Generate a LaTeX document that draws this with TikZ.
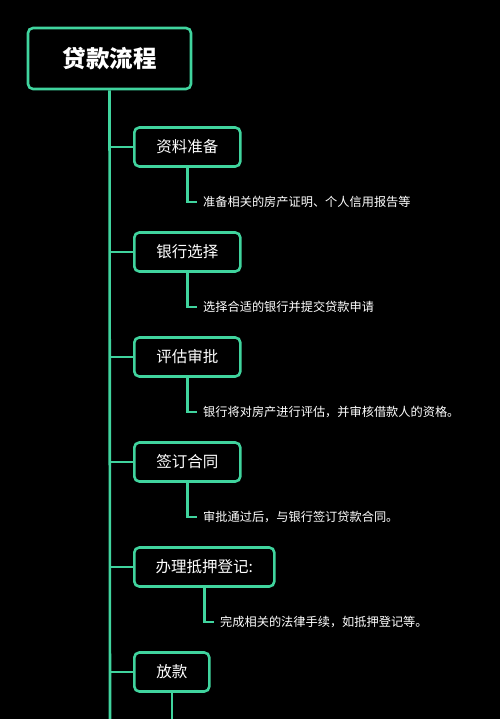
\documentclass[tikz,border=0pt]{standalone}
\usepackage{fontspec}
\setmainfont{Noto Sans CJK SC}
\definecolor{lineg}{RGB}{64,212,158}
\begin{document}
\begin{tikzpicture}[x=1pt,y=-1pt,
  box/.style={draw=lineg,line width=2.6pt,rounded corners=5pt,fill=black,text=white,inner sep=0pt,minimum height=39pt,font=\fontsize{15.5}{18}\selectfont},
  conn/.style={draw=lineg,line width=2.6pt},
  desc/.style={text=white,anchor=west,inner xsep=6pt,inner ysep=0pt,font=\fontsize{12.2}{14}\selectfont}]
\fill[black] (0,0) rectangle (500,719);
\useasboundingbox (0,0) rectangle (500,719);
\coordinate (bot) at (110,719);
\node[box,minimum width=163pt,minimum height=61pt,font=\bfseries\fontsize{23.5}{26}\selectfont] (t) at (109.5,58.5) {贷款流程};
\draw[conn] (t.south) -- (bot);
\node[box,minimum width=106pt,anchor=west] (c1) at (133,147) {资料准备};
\node[box,minimum width=106pt,anchor=west] (c2) at (133,252) {银行选择};
\node[box,minimum width=106pt,anchor=west] (c3) at (133,357) {评估审批};
\node[box,minimum width=106pt,anchor=west] (c4) at (133,462) {签订合同};
\node[box,minimum width=140pt,anchor=west] (c5) at (133,567) {办理抵押登记:};
\node[box,minimum width=75pt,anchor=west] (c6) at (133,672) {放款};
\node[desc] (d1) at (197,202) {准备相关的房产证明、个人信用报告等};
\node[desc] (d2) at (197,307) {选择合适的银行并提交贷款申请};
\node[desc] (d3) at (197,412) {银行将对房产进行评估，并审核借款人的资格。};
\node[desc] (d4) at (197,517) {审批通过后，与银行签订贷款合同。};
\node[desc] (d5) at (214,622) {完成相关的法律手续，如抵押登记等。};
\foreach \i in {1,...,6}{\draw[conn] (c\i.west) -- (c\i.west -| t.south);}
\foreach \i in {1,...,5}{\draw[conn] (c\i.south) |- (d\i.west);}
\coordinate (bot6) at (170.5,719);
\draw[conn] (c6.south) -- (c6.south |- bot6);
\end{tikzpicture}
\end{document}
